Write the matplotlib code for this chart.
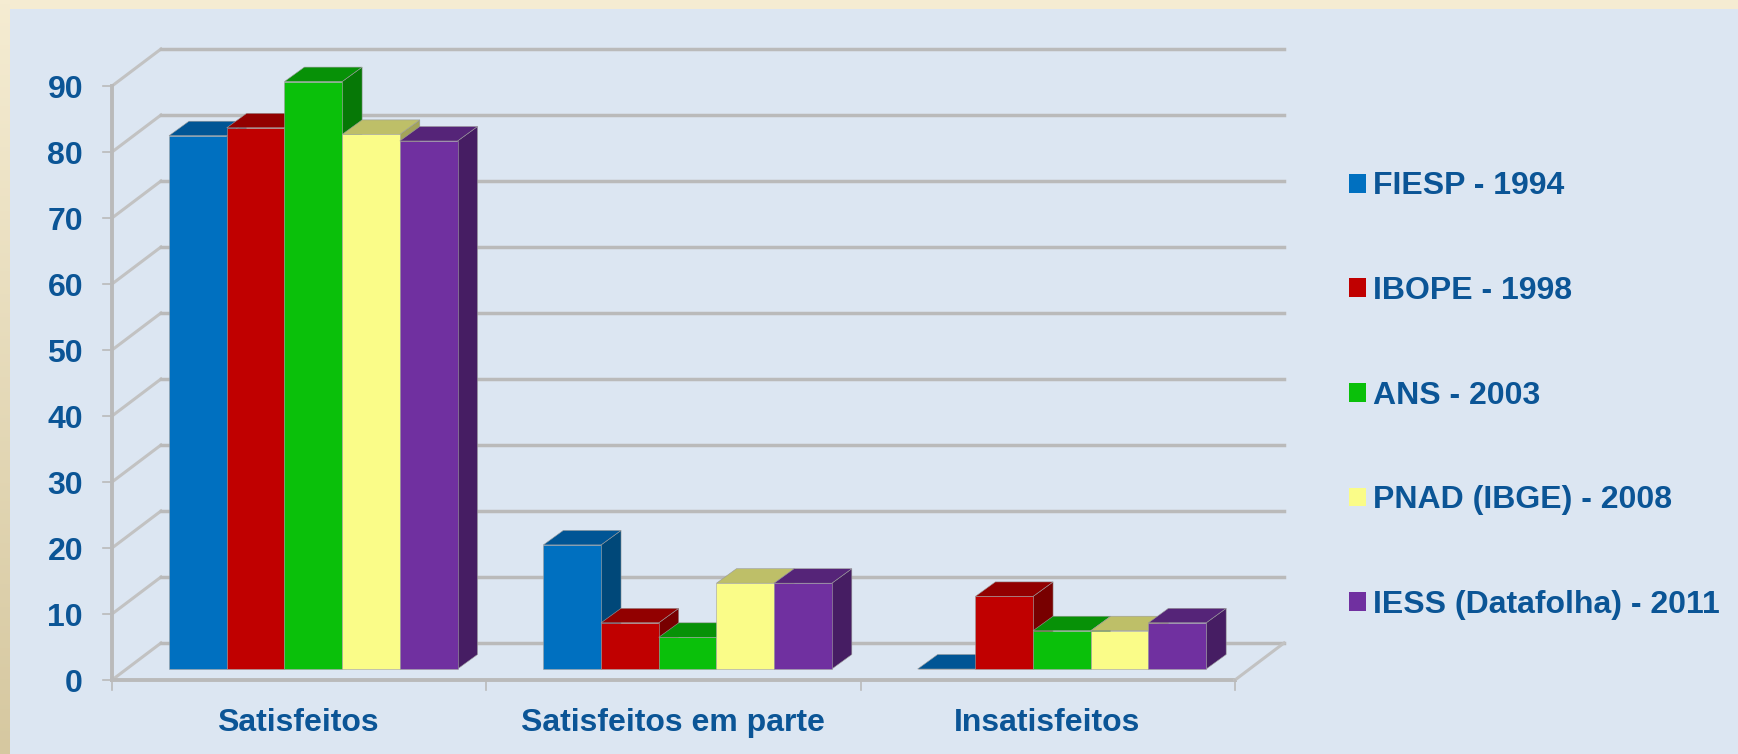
import numpy as np
import matplotlib
matplotlib.use('Agg')
import matplotlib.pyplot as plt
from matplotlib.patches import Polygon, Patch
from matplotlib.transforms import Affine2D

# values
categories = ['Satisfeitos', 'Satisfeitos em parte', 'Insatisfeitos']
series = ['FIESP - 1994', 'IBOPE - 1998', 'ANS - 2003', 'PNAD (IBGE) - 2008', 'IESS (Datafolha) - 2011']
fiesp = [80.8, 18.8, 0]
ibope = [82, 7, 11]
ans = [89, 4.8, 5.8]
pnad = [81, 13, 5.8]
iess = [80, 13, 7]
yticks = [0, 10, 20, 30, 40, 50, 60, 70, 80, 90]

values = [fiesp, ibope, ans, pnad, iess]
front = ['#0070C0', '#C00000', '#0AC00A', '#FAFC88', '#7030A0']
top = ['#005595', '#920000', '#079107', '#BEBF68', '#552478']
side = ['#004879', '#780000', '#067806', '#A3A45A', '#461D63']

W, H = 1738, 754
BLUE = '#DCE6F2'
TXT = '#0B5596'
GRID = '#BABABA'

plt.rcParams['font.family'] = ['Liberation Sans', 'DejaVu Sans']
plt.rcParams['font.weight'] = 'bold'

fig = plt.figure(figsize=(W / 100, H / 100), dpi=100, facecolor=BLUE)

# page background: cream band on top, tan gradient on the left
bg = fig.add_axes([0, 0, 1, 1], zorder=0)
bg.set_xlim(0, W)
bg.set_ylim(H, 0)
bg.axis('off')
bg.fill_between([0, W], 0, 9, color='#F5ECD2', lw=0)
grad = np.array([[245, 236, 210], [214, 200, 160]]) / 255
col = np.linspace(grad[0], grad[1], 200).reshape(200, 1, 3)
bg.imshow(col, extent=[0, 10, H, 0], aspect='auto', zorder=1)
bg.set_xlim(0, W)
bg.set_ylim(H, 0)

# axes spans the front floor line, x in categories and y in percent
left, right, y0, y90 = 112, 1235, 680, 86
ax = fig.add_axes([left / W, 1 - y0 / H, (right - left) / W, (y0 - y90) / H], zorder=2)
ax.patch.set_alpha(0)
ax.set_xlim(0, 3)
ax.set_ylim(0, 90)
for s in ax.spines.values():
    s.set_visible(False)
ax.set_xticks([])
ax.set_yticks([])


def shift(dx, dy):
    return ax.transData + Affine2D().translate(dx, dy)


def px(x, y, dx=0, dy=0):
    p = ax.transData.transform((x, y))
    return (p[0] + dx, p[1] + dy)


# walls
wall_dx, wall_dy = 49, 37
for v in yticks:
    a = px(0, v)
    b = px(0, v, wall_dx, wall_dy)
    c = px(3, v, wall_dx, wall_dy)
    ax.plot([a[0], b[0]], [a[1], b[1]], transform=None, color='#C2C2C2', lw=2.2,
            clip_on=False, zorder=1)
    ax.plot([b[0], c[0]], [b[1], c[1]], transform=None, color=GRID, lw=2.5,
            clip_on=False, zorder=1)
    t = px(0, v, -9, 0)
    ax.plot([t[0], a[0]], [t[1], a[1]], transform=None, color=GRID, lw=1.2, clip_on=False, zorder=1)

# front axis lines
ax.plot([0, 0], [0, 90], color=GRID, lw=2.8, clip_on=False, zorder=2)
ax.plot([0, 3], [0, 0], color=GRID, lw=2.8, clip_on=False, zorder=2)
a, b = px(3, 0), px(3, 0, wall_dx, wall_dy)
ax.plot([a[0], b[0]], [a[1], b[1]], transform=None, color='#C2C2C2', lw=2.2, clip_on=False, zorder=2)
for i in range(4):
    a, b = px(i, 0), px(i, 0, 0, -10)
    ax.plot([a[0], b[0]], [a[1], b[1]], transform=None, color=GRID, lw=1.2, clip_on=False, zorder=2)

# bars
bar_w = 57.7 / ((right - left) / 3)
bar_start = 57 / ((right - left) / 3)
depth_dx, depth_dy = 20, 14.5
lift = 11
z = 3
for g in range(3):
    for k in range(5):
        v = values[k][g]
        x0 = g + bar_start + k * bar_w
        x1 = x0 + bar_w
        # side and top are drawn by hand, the front through ax.bar
        p0 = px(x1, v, 0, lift)
        p1 = px(x1, v, depth_dx, lift + depth_dy)
        p2 = px(x1, 0, depth_dx, lift + depth_dy)
        p3 = px(x1, 0, 0, lift)
        ax.add_patch(Polygon([p0, p1, p2, p3], closed=True, transform=None, fc=side[k],
                             ec='#9A9A9A', lw=0.4, clip_on=False, zorder=z))
        q0 = px(x0, v, 0, lift)
        q1 = px(x0, v, depth_dx, lift + depth_dy)
        q2 = px(x1, v, depth_dx, lift + depth_dy)
        ax.add_patch(Polygon([q0, q1, q2, p0], closed=True, transform=None, fc=top[k],
                             ec='#9A9A9A', lw=0.4, clip_on=False, zorder=z))
        ax.bar(x0, v, bar_w, align='edge', color=front[k], transform=shift(0, lift), clip_on=False,
               zorder=z + 1, edgecolor='#A0A0A0', linewidth=0.4)
        z += 2

# tick labels
for v in yticks:
    ax.text(0, v, str(v), transform=shift(-29, -12), ha='right', va='baseline', fontsize=23,
            color=TXT, clip_on=False)
for i, c in enumerate(categories):
    ax.text(i + 0.5, 0, c, transform=shift(-1, -51), ha='center', va='baseline', fontsize=23,
            color=TXT, clip_on=False)

handles = [Patch(facecolor=front[k], edgecolor='none', label=series[k]) for k in range(5)]
leg = ax.legend(handles=handles, loc='upper left', bbox_to_anchor=(1349 / W, 1 - 171.5 / H),
                bbox_transform=fig.transFigure, frameon=False, fontsize=23,
                handlelength=0.53, handleheight=0.53, handletextpad=0.22, labelspacing=2.335,
                borderaxespad=0, borderpad=0, labelcolor=TXT)

fig.savefig('out.png', dpi=100, facecolor=BLUE)
